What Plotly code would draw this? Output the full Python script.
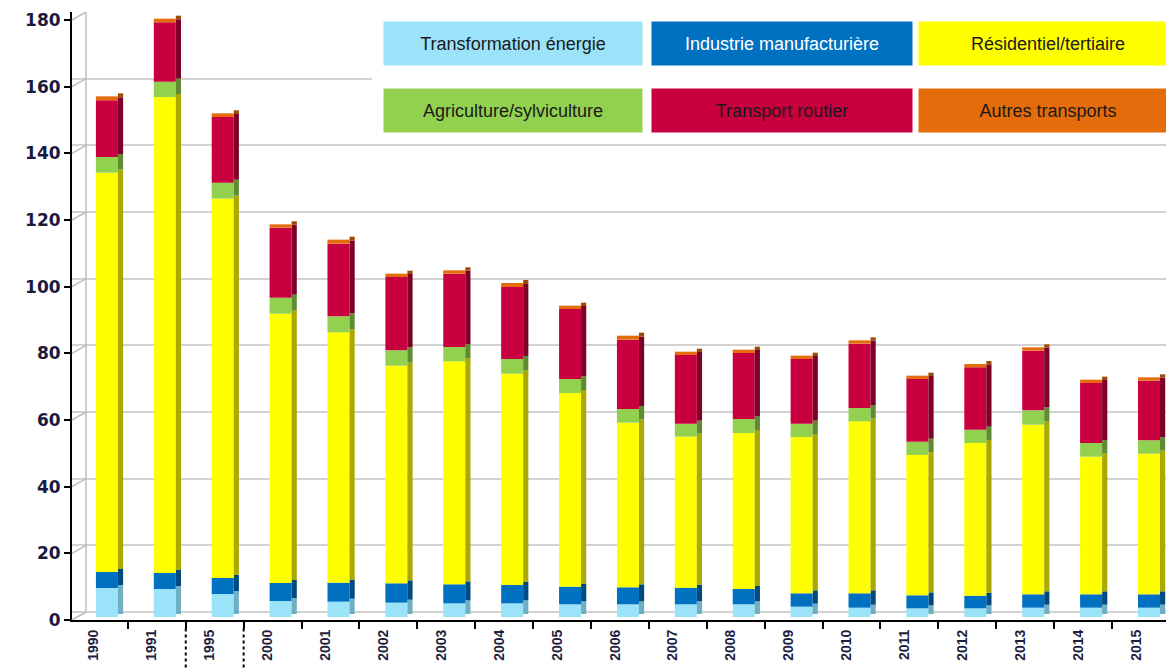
import numpy as np
import plotly.graph_objects as go

years = ["1990", "1991", "1995", "2000", "2001", "2002", "2003", "2004", "2005", "2006",
         "2007", "2008", "2009", "2010", "2011", "2012", "2013", "2014", "2015"]
transformation = [8.7, 8.4, 6.9, 4.8, 4.6, 4.3, 4.1, 4.1, 3.8, 3.8, 3.8, 3.8, 3.1, 2.8, 2.6, 2.6, 2.8, 2.8, 2.8]
industrie = [4.8, 4.8, 4.8, 5.4, 5.7, 5.8, 5.7, 5.5, 5.3, 5.1, 5.0, 4.6, 4.0, 4.3, 3.9, 3.8, 4.0, 4.0, 4.0]
residentiel = [119.8, 142.8, 113.8, 80.8, 75.1, 65.3, 66.9, 63.4, 58.1, 49.4, 45.3, 46.8, 46.9, 51.6, 42.1, 45.8, 50.9, 41.3, 42.2]
agriculture = [4.7, 4.6, 4.8, 4.8, 4.8, 4.6, 4.3, 4.4, 4.2, 4.1, 3.9, 4.2, 4.0, 4.0, 4.0, 4.0, 4.3, 4.1, 4.0]
routier = [17.0, 17.8, 19.7, 21.0, 21.8, 22.0, 22.0, 21.6, 21.0, 20.8, 20.6, 19.8, 19.4, 19.3, 18.8, 18.7, 17.9, 18.0, 17.9]
autres = [1.2, 1.1, 1.1, 1.0, 1.2, 1.0, 1.0, 1.2, 1.0, 1.2, 1.0, 1.0, 1.0, 1.0, 1.0, 1.0, 1.0, 1.0, 1.0]
y_ticks = list(range(0, 181, 20))

names = ["Transformation énergie", "Industrie manufacturière", "Résidentiel/tertiaire",
         "Agriculture/sylviculture", "Transport routier", "Autres transports"]
series = [transformation, industrie, residentiel, agriculture, routier, autres]
front_colors = ["#9BE3F9", "#0070C0", "#FFFF00", "#92D050", "#C8003F", "#E56C0A"]
side_colors = ["#6FAFC4", "#004A82", "#A9A900", "#5F8C33", "#7E0028", "#9C4A06"]
text_colors = ["#1a1a1a", "#FFFFFF", "#1a1a1a", "#1a1a1a", "#1a1a1a", "#1a1a1a"]

FRONT_LIFT = 0.9   # 3D depth: front faces sit slightly above the front axis
SIDE_LIFT = 1.8    # side faces are shifted further up
GRID_LIFT = 2.4    # back-wall grid sits above the front ticks
WALL_X = 0.0127    # back wall left edge (paper fraction)

fig = go.Figure()
cum = np.zeros(len(years))
for name, vals, fc, sc in zip(names, series, front_colors, side_colors):
    v = np.array(vals)
    fig.add_trace(go.Bar(x=years, y=v, base=cum + FRONT_LIFT, name=name,
                         marker=dict(color=fc, line=dict(width=0)),
                         width=0.38, offset=-0.052, showlegend=False))
    fig.add_trace(go.Bar(x=years, y=v, base=cum + SIDE_LIFT, name=name,
                         marker=dict(color=sc, line=dict(width=0)),
                         width=0.09, offset=0.328, showlegend=False, hoverinfo="skip"))
    cum = cum + v

# page body has an 8px margin, so the figure is laid out 8px smaller
fig.update_layout(
    width=1166, height=660,
    margin=dict(l=64, r=0, t=4, b=48, autoexpand=False),
    paper_bgcolor="white", plot_bgcolor="white",
    barmode="overlay",
    xaxis=dict(type="category", range=[-0.465, 18.57], tickson="boundaries", automargin=False,
               ticks="outside", ticklen=7, tickwidth=2, tickcolor="black",
               showline=True, linewidth=2, linecolor="black", showgrid=False,
               tickangle=-90, ticklabelshift=-5, ticklabelstandoff=2,
               tickfont=dict(family="Liberation Sans", size=14, color="#1F1F3F", weight="bold")),
    yaxis=dict(range=[0, 182.4], tickvals=y_ticks, showgrid=False, zeroline=False, automargin=False,
               ticks="outside", ticklen=6, tickwidth=2, tickcolor="black",
               showline=True, linewidth=2, linecolor="black",
               tickfont=dict(family="DejaVu Sans", size=17, color="#1A1A40", weight="bold"),
               minor=dict(tickvals=[t + GRID_LIFT for t in y_ticks], showgrid=True,
                          gridcolor="#D2D2D2", gridwidth=1.5, ticks="")),
)

shapes = []
# back wall left edge
shapes.append(dict(type="line", xref="paper", yref="paper", x0=WALL_X, x1=WALL_X,
                   y0=0.013, y1=1.0, line=dict(color="#BDBDBD", width=1.5)))
# perspective connectors from front ticks to the back wall grid
for t in y_ticks:
    shapes.append(dict(type="line", xref="paper", yref="y", x0=0, x1=WALL_X,
                       y0=t, y1=t + GRID_LIFT, line=dict(color="#BDBDBD", width=1.5)))
# legend background
shapes.append(dict(type="rect", xref="paper", yref="paper", x0=0.272, x1=1.01,
                   y0=0.795, y1=0.99, fillcolor="white", line=dict(width=0), layer="above"))
# dotted separators below the axis
for xb in [1.5, 2.5]:
    shapes.append(dict(type="line", xref="x", yref="paper", x0=xb, x1=xb, y0=-0.014, y1=-0.08,
                       line=dict(color="black", width=2, dash="dot"), layer="above"))
fig.update_layout(shapes=shapes)

# legend boxes
col_x = [0.400, 0.644, 0.886]
col_w = [258, 260, 258]
row_y = [0.948, 0.838]
for i, (name, col, tc) in enumerate(zip(names, front_colors, text_colors)):
    r, c = divmod(i, 3)
    fig.add_annotation(xref="paper", yref="paper", x=col_x[c], y=row_y[r],
                       xanchor="center", yanchor="middle", showarrow=False,
                       text=name, width=col_w[c], height=43, bgcolor=col, borderpad=0,
                       align="center", valign="middle",
                       font=dict(family="Liberation Sans", size=18, color=tc))

fig.write_html("out.html")
